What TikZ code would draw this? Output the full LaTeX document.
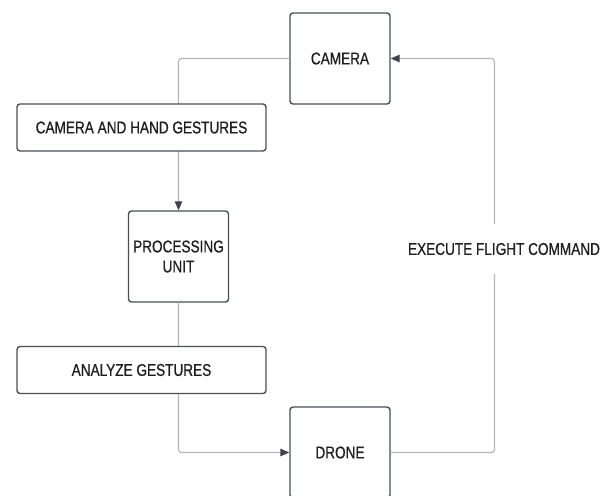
\documentclass[tikz,border=0pt]{standalone}
\usepackage{fontspec}
\setmainfont{Liberation Sans}[FakeStretch=0.8, FakeBold=0.6]
\usetikzlibrary{arrows.meta}
\definecolor{boxline}{HTML}{4A4F57}
\definecolor{wire}{HTML}{B4B6B9}
\definecolor{tipgray}{HTML}{3E434B}
\definecolor{ink}{HTML}{1E1E1E}
\tikzset{
  block/.style={draw=boxline, line width=1.4pt, rounded corners=3pt, fill=white,
    text=ink, align=center, inner sep=0pt,
    font=\fontsize{17}{20}\selectfont},
  sqbox/.style={block, minimum width=100pt, minimum height=91pt},
  wide/.style={block, minimum width=249pt, minimum height=47pt},
  tag/.style={fill=white, text=ink, inner sep=0pt, minimum height=50pt,
    font=\fontsize{17}{20}\selectfont},
  wireline/.style={draw=wire, line width=1.2pt, rounded corners=3pt},
  flow/.style={wireline, -{Triangle[length=9pt,width=7.5pt,color=tipgray]}}
}
\begin{document}
\begin{tikzpicture}[x=1pt, y=-1pt]
  \useasboundingbox (0,0) rectangle (606,496);
  \clip (0,0) rectangle (606,496);
  \fill[white] (0,0) rectangle (606,496);

  % main blocks
  \node[sqbox] (cam) at (340,58.5) {CAMERA};
  \node[sqbox] (pu) at (178.5,256.5) {PROCESSING\\UNIT};
  \node[sqbox] (drone) at (340,452.5) {DRONE};
  \coordinate (rt) at (494.5,0);

  % connectors
  \draw[flow] (cam.west) -| (pu.north);
  \draw[flow] (pu.south) |- (drone.west);
  \draw[flow] (drone.east) -- (drone.east -| rt) -- (cam.east -| rt) -- (cam.east);

  % labels sitting on the connectors
  \node[wide] (camhg) at (141.5,127.5) {CAMERA AND HAND GESTURES};
  \node[wide] (anl) at (141.5,370) {ANALYZE GESTURES};
  \node[tag] (exec) at (504,249) {EXECUTE FLIGHT COMMAND};
\end{tikzpicture}
\end{document}
